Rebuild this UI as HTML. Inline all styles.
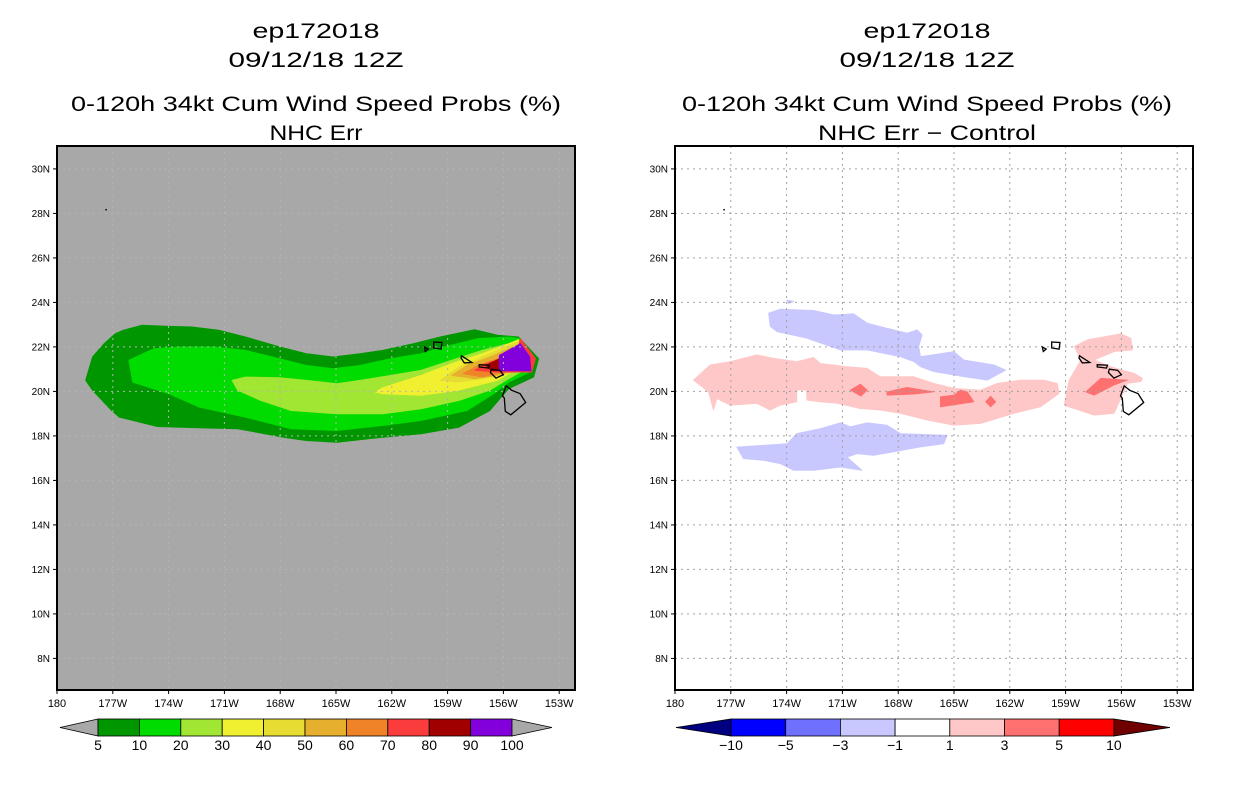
<!DOCTYPE html>
<html><head><meta charset="utf-8">
<style>
html,body{margin:0;padding:0;background:#fff;width:1236px;height:800px;overflow:hidden}
svg{display:block;font-family:"Liberation Sans",sans-serif}
</style></head>
<body>
<svg id="svg" width="1236" height="800" viewBox="0 0 1236 800">
<g id="left"></g>
<g id="right"></g>
</svg>
<script>
// ---------- data ----------
const lonTicks = [-180,-177,-174,-171,-168,-165,-162,-159,-156,-153];
const lonTickLabels = ["180","177W","174W","171W","168W","165W","162W","159W","156W","153W"];
const latTicks = [8,10,12,14,16,18,20,22,24,26,28,30];
const latTickLabels = ["8N","10N","12N","14N","16N","18N","20N","22N","24N","26N","28N","30N"];

const probLevels = [5,10,20,30,40,50,60,70,80,90,100];
const probColors = ["#009600","#00dc00","#a0e632","#f0f030","#e6dc32","#e6af2d","#f08228","#fa3c3c","#a00000","#8200dc"];
const band5 = [[-178.46,20.5],[-178.09,21.55],[-177.47,22.15],[-176.86,22.6],[-176.45,22.75],[-175.42,22.98],[-174.19,22.93],[-172.75,22.9],[-171.31,22.75],[-169.87,22.45],[-168.03,22.0],[-166.59,21.7],[-165.15,21.55],[-163.71,21.7],[-162.48,21.85],[-160.84,22.15],[-159.4,22.45],[-157.55,22.78],[-156.32,22.53],[-155.19,22.45],[-154.1,21.47],[-154.37,20.65],[-155.71,20.12],[-156.12,19.74],[-156.73,19.14],[-158.38,18.39],[-160.43,18.09],[-162.48,17.94],[-164.95,17.71],[-166.59,17.79],[-167.82,17.94],[-170.29,18.32],[-172.34,18.36],[-174.6,18.42],[-176.65,18.84],[-177.06,19.14],[-178.09,20.05]];
const band10 = [[-176.14,21.4],[-174.8,21.92],[-173.37,22.0],[-171.52,22.0],[-169.87,21.85],[-168.03,21.47],[-166.59,21.17],[-165.15,21.02],[-163.71,21.17],[-162.07,21.47],[-160.43,21.7],[-159.2,22.0],[-157.35,22.38],[-155.71,22.45],[-155.09,22.38],[-154.37,21.47],[-154.58,20.87],[-155.71,20.42],[-156.53,19.89],[-157.96,19.14],[-160.43,18.69],[-162.48,18.47],[-164.95,18.24],[-167.41,18.32],[-169.87,18.84],[-172.34,19.29],[-173.98,19.89],[-175.93,20.42]];
const band20 = [[-170.59,20.5],[-169.87,20.65],[-168.03,20.62],[-166.59,20.5],[-164.95,20.35],[-163.71,20.5],[-162.07,20.72],[-160.43,20.95],[-158.79,21.4],[-157.14,21.85],[-155.71,22.15],[-155.09,22.3],[-154.89,20.95],[-155.71,20.57],[-156.73,20.05],[-158.38,19.59],[-160.43,19.22],[-162.48,18.99],[-164.95,18.99],[-167.41,19.14],[-169.05,19.59],[-170.29,20.05]];
const band30 = [[-162.89,19.97],[-162.48,20.17],[-160.43,20.72],[-158.79,21.25],[-157.14,21.7],[-155.71,22.15],[-155.19,22.33],[-155.09,21.1],[-156.32,20.5],[-158.38,20.05],[-160.43,19.82],[-162.48,19.89]];
const band40 = [[-159.4,20.5],[-158.38,21.1],[-157.14,21.55],[-155.71,22.08],[-155.19,22.23],[-155.29,21.1],[-156.53,20.65],[-158.38,20.42]];
const band50 = [[-158.79,20.72],[-157.96,21.17],[-156.73,21.55],[-155.5,22.0],[-155.19,20.95],[-156.32,20.72],[-157.55,20.57]];
const band60 = [[-158.17,20.8],[-157.35,21.17],[-156.32,21.47],[-155.4,21.85],[-155.29,20.95],[-156.32,20.8],[-157.14,20.65]];
const band70 = [[-157.55,20.95],[-156.94,21.25],[-156.12,21.47],[-155.29,21.7],[-155.09,22.38],[-154.27,21.47],[-154.48,20.87],[-156.32,20.87]];
const band80 = [[-156.94,21.17],[-156.22,21.47],[-156.08,20.92],[-156.63,20.92]];
const band90 = [[-156.22,21.62],[-155.09,22.15],[-154.58,21.55],[-154.52,20.92],[-156.22,20.92]];
const probBands = [band5,band10,band20,band30,band40,band50,band60,band70,band80,band90];

const diffLevels = [-10,-5,-3,-1,1,3,5,10];
const diffColors = ["#000080","#0000ff","#7070ff","#c8c8ff","#ffffff","#ffc8c8","#ff7070","#ff0000","#700000"];
const blueNorth = [[-174.97,23.52],[-174.34,23.7],[-173.45,23.67],[-172.55,23.64],[-171.47,23.44],[-170.39,23.49],[-169.67,23.07],[-168.6,22.84],[-167.52,22.62],[-166.98,22.77],[-166.71,22.54],[-166.89,22.02],[-166.8,21.56],[-165.01,21.79],[-164.47,21.41],[-162.85,21.19],[-162.22,20.96],[-163.21,20.51],[-164.47,20.66],[-166.08,20.89],[-166.8,21.11],[-167.16,21.34],[-167.88,21.56],[-169.67,21.86],[-171.11,21.86],[-172.91,22.39],[-174.52,22.69],[-174.88,22.92]];
const blueSouth = [[-176.68,17.5],[-175.24,17.58],[-173.98,17.65],[-173.45,18.11],[-172.19,18.33],[-171.11,18.59],[-170.57,18.41],[-169.67,18.59],[-168.6,18.48],[-167.88,18.11],[-165.37,18.03],[-165.55,17.65],[-166.8,17.5],[-168.24,17.28],[-169.32,17.13],[-170.21,17.2],[-170.75,17.05],[-169.94,16.45],[-171.11,16.6],[-172.55,16.45],[-173.62,16.45],[-174.34,16.75],[-175.24,16.9],[-176.32,16.98]];
const blueSmall = [[-174.0,24.1],[-173.6,24.05],[-173.9,23.95]];
const pinkMain = [[-179.01,20.51],[-178.11,21.19],[-177.04,21.34],[-175.6,21.64],[-174.7,21.49],[-173.45,21.34],[-172.55,21.53],[-172.19,21.26],[-170.75,21.11],[-169.67,21.04],[-168.96,20.66],[-167.16,20.66],[-166.08,20.36],[-165.01,20.14],[-163.57,20.06],[-162.67,20.36],[-161.42,20.51],[-160.16,20.51],[-159.44,20.36],[-159.35,19.91],[-160.34,19.31],[-161.78,19.01],[-163.57,18.56],[-165.01,18.48],[-166.44,18.71],[-167.88,19.01],[-168.96,19.16],[-170.03,19.23],[-171.29,19.46],[-172.19,19.53],[-172.91,19.61],[-172.94,20.06],[-173.45,20.06],[-173.45,19.53],[-174.34,19.38],[-174.88,19.16],[-175.6,19.46],[-177.04,19.38],[-177.75,19.68],[-177.93,19.16],[-178.2,19.98]];
const pinkEast = [[-158.81,20.51],[-158.18,21.41],[-158.54,22.02],[-157.83,22.32],[-156.03,22.59],[-155.49,22.39],[-155.4,21.86],[-156.39,21.79],[-157.47,21.41],[-156.57,21.11],[-155.31,20.81],[-154.86,20.59],[-154.95,20.44],[-155.67,20.36],[-156.39,19.01],[-157.47,18.93],[-158.54,19.23],[-159.08,19.38]];
const red1 = [[-170.57,20.06],[-170.03,20.33],[-169.67,20.06],[-170.0,19.79]];
const red2 = [[-168.6,19.98],[-167.52,20.18],[-166.08,19.98],[-167.16,19.88],[-168.6,19.83]];
const red3 = [[-165.73,19.76],[-165.01,19.83],[-164.65,20.06],[-164.29,19.98],[-163.93,19.53],[-165.73,19.31]];
const red4 = [[-163.3,19.53],[-163.03,19.79],[-162.76,19.53],[-163.03,19.31]];
const red5 = [[-157.92,19.98],[-157.11,20.59],[-155.67,20.51],[-156.39,20.29],[-157.47,19.83]];
const diffShapes = [[blueNorth,3],[blueSouth,3],[blueSmall,3],[pinkMain,5],[pinkEast,5],[red1,6],[red2,6],[red3,6],[red4,6],[red5,6]];

const bigIsland = [[-155.85,20.25],[-155.55,20.05],[-155.1,19.9],[-154.8,19.5],[-155.6,18.95],[-155.9,19.1],[-155.95,19.7],[-156.05,19.8]];
const maui = [[-156.65,21.0],[-156.2,20.95],[-156.0,20.75],[-156.4,20.6],[-156.7,20.85]];
const molokai = [[-157.3,21.2],[-156.75,21.18],[-156.8,21.05],[-157.3,21.1]];
const oahu = [[-158.25,21.6],[-157.7,21.3],[-158.1,21.28],[-158.28,21.5]];
const kauai = [[-159.75,22.22],[-159.3,22.2],[-159.35,21.9],[-159.75,21.95]];
const niihau = [[-160.25,22.0],[-160.05,21.9],[-160.2,21.8]];
const islands = [bigIsland,maui,molokai,oahu,kauai,niihau];

// ---------- geometry ----------
const PW = 518, PT = 146, PB = 690;
const DEG = 18.6;
function xs(x0){ return lon => x0 + (lon + 180) * DEG; }
const ys = lat => PT + (31.03 - lat) * 22.25;
const NS = "http://www.w3.org/2000/svg";
function mk(parent, tag, attrs){ const e = document.createElementNS(NS, tag); for (const k in attrs) e.setAttribute(k, attrs[k]); parent.appendChild(e); return e; }
function pts(poly, X){ return poly.map(p => X(p[0]).toFixed(1) + "," + ys(p[1]).toFixed(1)).join(" "); }

function title(g, cx, l3, l4, w4){
  const lines = [["ep172018",38,127],["09/12/18 12Z",67,175],[l3,111,490],[l4,140,w4]];
  lines.forEach((l,i) => {
    const t = mk(g, "text", {x:cx, y:l[1], "text-anchor":"middle", "font-size":"21", fill:"#000", textLength:l[2], lengthAdjust:"spacingAndGlyphs"});
    t.textContent = l[0];
    
    
  });
}

function axes(g, x0, X, gridColor){
  latTicks.forEach((lat,i) => {
    const gl = mk(g, "line", {x1:x0, x2:x0+PW, y1:ys(lat), y2:ys(lat), stroke:gridColor, "stroke-width":1, "stroke-dasharray":"2,4"});
    
    
    mk(g, "line", {x1:x0-4, x2:x0, y1:ys(lat), y2:ys(lat), stroke:"#000"});
    const t = mk(g, "text", {x:x0-7, y:ys(lat)+3.5, "text-anchor":"end", "font-size":"10", fill:"#000"});
    t.textContent = latTickLabels[i];
    
    
  });
  lonTicks.forEach((lon,i) => {
    if (i > 0) {
      const gl = mk(g, "line", {x1:X(lon), x2:X(lon), y1:PT, y2:PB, stroke:gridColor, "stroke-width":1, "stroke-dasharray":"2,4"});
      
      
    }
    mk(g, "line", {x1:X(lon), x2:X(lon), y1:PB, y2:PB+4, stroke:"#000"});
    const t = mk(g, "text", {x:X(lon), y:PB+17, "text-anchor":"middle", "font-size":"11", fill:"#000"});
    t.textContent = lonTickLabels[i];
    
    
  });
}

function drawIslands(g, X){
  islands.forEach(p => {
    const e = mk(g, "polygon", {points:pts(p,X), fill:"none", stroke:"#000", "stroke-width":1.3});
    
    
  });
  const d = mk(g, "rect", {x:X(-177.4), y:ys(28.2), width:1.5, height:1.5, fill:"#000"});
  
  
}

function frame(g, x0){
  const f = mk(g, "rect", {x:x0, y:PT, width:PW, height:PB-PT, fill:"none", stroke:"#000", "stroke-width":2});
  
  
}

// ---------- left panel ----------
(function(){
  const g = document.getElementById("left"), x0 = 57, X = xs(x0);
  title(g, 316, "0-120h 34kt Cum Wind Speed Probs (%)", "NHC Err", 93);
  const bg = mk(g, "rect", {x:x0, y:PT, width:PW, height:PB-PT, fill:"#a8a8a8"});
  
  
  probBands.forEach((b,i) => {
    const e = mk(g, "polygon", {points:pts(b,X), fill:probColors[i], stroke:probColors[i], "stroke-width":0.8, "stroke-linejoin":"round"});
    
    
  });
  axes(g, x0, X, "#b4b4b4");
  drawIslands(g, X);
  frame(g, x0);
  const cb = mk(g, "g", {});  
  const bx0 = 98, bw = 41.4, by = 719, bh = 17;
  const lt = mk(cb, "polygon", {points:`60,${by+bh/2} ${bx0},${by} ${bx0},${by+bh}`, fill:"#a8a8a8", stroke:"#000", "stroke-width":0.8});
   
  probColors.forEach((c,i) => {
    const r = mk(cb, "rect", {x:bx0+i*bw, y:by, width:bw, height:bh, fill:c, stroke:"#000", "stroke-width":0.8});
     
  });
  const xe = bx0 + probColors.length*bw;
  const rt = mk(cb, "polygon", {points:`${xe},${by} ${xe+40},${by+bh/2} ${xe},${by+bh}`, fill:"#a8a8a8", stroke:"#000", "stroke-width":0.8});
   
  probLevels.forEach((v,i) => {
    const t = mk(cb, "text", {x:bx0+i*bw, y:by+bh+14, "text-anchor":"middle", "font-size":"14", fill:"#000"});
    t.textContent = v;
     
  });
})();

// ---------- right panel ----------
(function(){
  const g = document.getElementById("right"), x0 = 675, X = xs(x0);
  title(g, 927, "0-120h 34kt Cum Wind Speed Probs (%)", "NHC Err \u2212 Control", 218);
  const bg = mk(g, "rect", {x:x0, y:PT, width:PW, height:PB-PT, fill:"#fff"});
  
  
  diffShapes.forEach(s => {
    const c = diffColors[s[1]];
    const e = mk(g, "polygon", {points:pts(s[0],X), fill:c, stroke:c, "stroke-width":0.8, "stroke-linejoin":"round"});
    
    
  });
  axes(g, x0, X, "#a0a0a0");
  drawIslands(g, X);
  frame(g, x0);
  const cb = mk(g, "g", {});  
  const bx0 = 731, bw = 54.7, by = 719, bh = 17;
  const lt = mk(cb, "polygon", {points:`676,${by+bh/2} ${bx0},${by} ${bx0},${by+bh}`, fill:diffColors[0], stroke:"#000", "stroke-width":0.8});
   
  for (let i = 1; i < diffColors.length-1; i++) {
    const r = mk(cb, "rect", {x:bx0+(i-1)*bw, y:by, width:bw, height:bh, fill:diffColors[i], stroke:"#000", "stroke-width":0.8});
     
  }
  const xe = bx0 + (diffColors.length-2)*bw;
  const rt = mk(cb, "polygon", {points:`${xe},${by} ${xe+56},${by+bh/2} ${xe},${by+bh}`, fill:diffColors[diffColors.length-1], stroke:"#000", "stroke-width":0.8});
   
  diffLevels.forEach((v,i) => {
    const t = mk(cb, "text", {x:bx0+i*bw, y:by+bh+14, "text-anchor":"middle", "font-size":"14", fill:"#000"});
    t.textContent = v < 0 ? "\u2212" + Math.abs(v) : String(v);
     
  });
})();
</script>
</body></html>
